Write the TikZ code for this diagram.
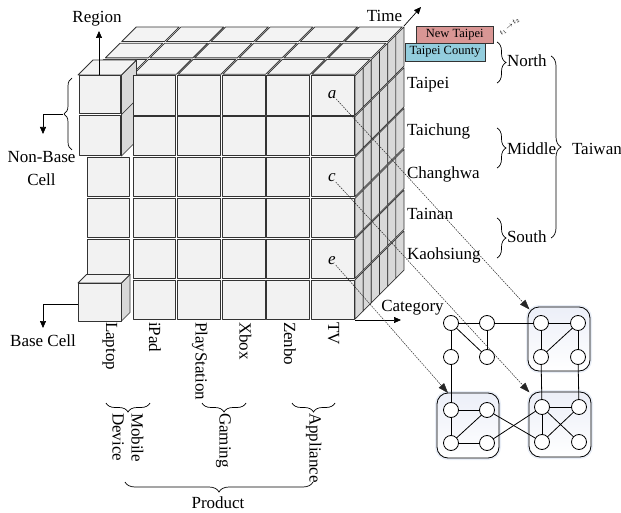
\documentclass[tikz,border=0pt]{standalone}
\usepackage{fontspec}
\setmainfont{Liberation Serif}
\usetikzlibrary{arrows.meta,decorations.pathreplacing,calc}

\definecolor{facefront}{HTML}{F2F2F2}
\definecolor{facetop}{HTML}{F3F3F3}
\definecolor{faceside}{HTML}{D9D9D9}
\definecolor{edgegray}{HTML}{333333}
\definecolor{salmon}{HTML}{D99694}
\definecolor{skyblue}{HTML}{93CDDD}
\definecolor{boxtop}{HTML}{ECEFF8}
\definecolor{boxglow}{HTML}{E8EDF6}

\begin{document}
\begin{tikzpicture}[x=1pt,y=-1pt,
  every node/.style={font=\fontsize{17}{19}\selectfont, inner sep=0pt, outer sep=0pt},
  cubeface/.style={fill=facefront, draw=edgegray, line width=0.8pt, line join=round},
  cubetop/.style={fill=facetop, draw=edgegray, line width=0.8pt, line join=round},
  cubeside/.style={fill=faceside, draw=edgegray, line width=0.7pt, line join=round},
  axisarrow/.style={draw=black, line width=0.7pt, -{Triangle[length=7pt,width=6pt]}},
  linkarrow/.style={draw=black!85, line width=0.5pt, dash pattern=on 1.6pt off 1pt,
                    -{Triangle[length=10pt,width=7pt]}},
  bracer/.style={decorate, decoration={brace, amplitude=#1}, line width=0.7pt},
  vlabel/.style={rotate=-90, anchor=west, text height=12pt, text depth=4pt},
  rowlabel/.style={anchor=base west},
  tagbox/.style={draw=edgegray, line width=0.8pt, font=\fontsize{12.5}{14}\selectfont},
  gnode/.style={circle, draw=black, fill=white, line width=0.8pt, minimum size=15pt},
  gedge/.style={draw=black, line width=0.8pt},
  cluster/.style={draw=black, line width=0.8pt, rounded corners=11pt,
                  top color=boxtop, bottom color=white,
                  preaction={draw=boxglow, line width=4pt}},
]
\useasboundingbox (0,0) rectangle (621,513);

% grid geometry of the data cube
\def\xL{87.4}  \def\cw{44.6}
\def\ry{75}    \def\rh{40.83}
\def\dt{16.3}  \def\ds{8.17}

% ---- top face: three depth layers, six columns
\foreach \k in {2,1,0}{
  \foreach \c in {0,...,5}{
    \pgfmathsetmacro\ox{\xL+\c*\cw+\k*\dt}
    \pgfmathsetmacro\oy{\ry-\k*\dt}
    \begin{scope}[shift={(\ox,\oy)}, x={(\cw pt,0pt)}, y={(\dt pt,\dt pt)}]
      \draw[cubetop] (0.02,0.05) -- (0.98,0.05) -- (0.98,0.95) -- (0.02,0.95) -- cycle;
    \end{scope}
  }
}

% ---- right side face: six rows, six thin slices
\foreach \r in {0,...,5}{
  \foreach \j in {0,...,5}{
    \pgfmathsetmacro\ox{355+\j*\ds}
    \pgfmathsetmacro\oy{\ry+\r*\rh-\j*\ds}
    \begin{scope}[shift={(\ox,\oy)}, x={(\ds pt,\ds pt)}, y={(0pt,-\rh pt)}]
      \draw[cubeside] (0,0.02) -- (1,0.02) -- (1,0.98) -- (0,0.98) -- cycle;
    \end{scope}
  }
}

% ---- laptop column, cells that stay in the cube
\foreach \r in {2,3,4}{
  \draw[cubeface] ({\xL-0.5},{\ry+\r*\rh+0.9}) rectangle ({\xL+\cw-2.4},{\ry+(\r+1)*\rh-0.9});
}

% ---- non-base cells pulled out of the cube
\draw[cubeside] (121.5,114.5) -- (136.5,99.5) -- (136.5,141) -- (121.5,156) -- cycle;
\draw[cubeface] (78.9,115.4) rectangle (120.6,155.1);
\draw[cubeside] (121.5,75) -- (136.5,60) -- (136.5,99.5) -- (121.5,114.5) -- cycle;
\draw[cubetop]  (78,75) -- (93,60) -- (136.5,60) -- (121.5,75) -- cycle;
\draw[cubeface] (78.9,75.9) rectangle (120.6,113.6);

% ---- base cell
\draw[cubeside] (121.5,283) -- (130,274.5) -- (130,312.5) -- (121.5,321) -- cycle;
\draw[cubetop]  (78,283) -- (86.5,274.5) -- (130,274.5) -- (121.5,283) -- cycle;
\draw[cubeface] (78,283) rectangle (121.5,321);

% ---- front face of the cube
\foreach \c in {1,...,5}{
  \foreach \r in {0,...,5}{
    \draw[cubeface] ({\xL+\c*\cw+0.9},{\ry+\r*\rh+0.9}) rectangle
                    ({\xL+(\c+1)*\cw-0.9},{\ry+(\r+1)*\rh-0.9});
  }
}

% ---- axes
\coordinate (regbase) at (99,75);
\coordinate (regtip)  at (99,31);
\draw[axisarrow] (regbase) -- (regtip);
\node[anchor=base] (region) at (97,23) {Region};

\coordinate (timebase) at (404,26);
\coordinate (timetip)  at (421,7);
\draw[axisarrow] (timebase) -- (timetip);
\node[anchor=base] (time) at (384.5,22) {Time};

\coordinate (catbase) at (355,320);
\coordinate (cattip)  at (401,320);
\draw[axisarrow] (catbase) -- (cattip);
\node[anchor=base] (category) at (412.5,311) {Category};

% ---- non-base / base cell callouts
\draw[bracer=8pt] (72,150) -- (72,78);
\coordinate (nbtip) at (63,114);
\coordinate (nbend) at (43,134);
\draw[axisarrow] (nbtip) -| (nbend);
\node[anchor=base] (nonbase) at (41.5,163) {Non-Base};
\node[anchor=base] (nbcell)  at (41.5,186) {Cell};

\coordinate (bcleft) at (78,304);
\coordinate (bcend)  at (43,328);
\draw[axisarrow] (bcleft) -| (bcend);
\node[anchor=base] (basecell) at (43,346) {Base Cell};

% ---- product labels
\node[vlabel] (laptop) at (110,322) {Laptop};
\node[vlabel] (ipad)   at (153,322) {iPad};
\node[vlabel] (ps)     at (199.5,322) {PlayStation};
\node[vlabel] (xbox)   at (243.5,322) {Xbox};
\node[vlabel] (zenbo)  at (288,322) {Zenbo};
\node[vlabel] (tv)     at (332,322) {TV};

\draw[bracer=9pt] (150,403) -- (106,403);
\draw[bracer=9pt] (246,403) -- (202,403);
\draw[bracer=9pt] (335,403) -- (292,403);
\node[rotate=-90, anchor=west, align=left] (mobile) at (128,413) {Mobile\\Device};
\node[vlabel] (gaming)    at (223.5,413) {Gaming};
\node[vlabel] (appliance) at (313.5,413) {Appliance};

\draw[bracer=10pt] (313,482) -- (125,482);
\node[anchor=base] (product) at (218,508) {Product};

% ---- region labels
\node[rowlabel] (taipei)    at (407,89)  {Taipei};
\node[rowlabel] (taichung)  at (407,136) {Taichung};
\node[rowlabel] (changhwa)  at (407,179) {Changhwa};
\node[rowlabel] (tainan)    at (407,219) {Tainan};
\node[rowlabel] (kaohsiung) at (407,259) {Kaohsiung};

\node[tagbox, fill=salmon, minimum width=77pt, minimum height=17pt] (newtaipei) at (454.7,34.5) {New Taipei};
\node[tagbox, fill=skyblue, minimum width=80pt, minimum height=18pt] (taipeicounty) at (445,52) {Taipei County};
\node[rotate=40, font=\fontsize{7.5}{8}\selectfont] (tstep) at (509.5,26.5) {$t_1\!\rightarrow\! t_2$};

\draw[bracer=9pt] (497,42) -- (497,83);
\draw[bracer=9pt] (497,128) -- (497,168);
\draw[bracer=9pt] (497,218) -- (497,258);
\draw[bracer=10pt] (551,56) -- (551,238);
\node[anchor=base west] (north)  at (507,67)  {North};
\node[anchor=base west] (middle) at (507,155) {Middle};
\node[anchor=base west] (south)  at (507,243) {South};
\node[anchor=base west] (taiwan) at (572,155) {Taiwan};

% ---- cell markers
\node (lbla) at (332,95)  {\itshape a};
\node (lblc) at (332,178) {\itshape c};
\node (lble) at (332,261) {\itshape e};

% ---- graph of cells
\node[cluster, minimum width=62pt, minimum height=64pt] (tr) at (559,339) {};
\node[cluster, minimum width=62pt, minimum height=65pt] (bl) at (468,425.5) {};
\node[cluster, minimum width=62pt, minimum height=65pt] (br) at (560,424.5) {};

\node[gnode] (f1) at (451,323) {};
\node[gnode] (f2) at (487,323) {};
\node[gnode] (f3) at (451,357) {};
\node[gnode] (f4) at (487,357) {};
\node[gnode] (t1) at (541,323) {};
\node[gnode] (t2) at (578,323) {};
\node[gnode] (t3) at (541,357) {};
\node[gnode] (t4) at (578,357) {};
\node[gnode] (b1) at (451,410) {};
\node[gnode] (b2) at (487,410) {};
\node[gnode] (b3) at (451,443) {};
\node[gnode] (b4) at (487,443) {};
\node[gnode] (r1) at (542,407) {};
\node[gnode] (r2) at (579,407) {};
\node[gnode] (r3) at (542,442) {};
\node[gnode] (r4) at (579,442) {};

\draw[gedge] (f1) -- (f2);
\draw[gedge] (f2) -- (t1);
\draw[gedge] (f1) -- (f3);
\draw[gedge] (f1) -- (f4);
\draw[gedge] (f2) -- (f4);
\draw[gedge] (f3) -- (b1);
\draw[gedge] (t1) -- (t2);
\draw[gedge] (t1) -- (t3);
\draw[gedge] (t2) -- (t4);
\draw[gedge] (t3) -- (t2);
\draw[gedge] (t3) -- (r1);
\draw[gedge] (t4) -- (r2);
\draw[gedge] (b1) -- (b2);
\draw[gedge] (b1) -- (b3);
\draw[gedge] (b3) -- (b4);
\draw[gedge] (b3) -- (b2);
\draw[gedge] (b2) -- (r3);
\draw[gedge] (b4) -- (r1);
\draw[gedge] (r1) -- (r2);
\draw[gedge] (r1) -- (r3);
\draw[gedge] (r1) -- (r4);
\draw[gedge] (r3) -- (r2);

% ---- links from cube cells to graph clusters
\coordinate (trin) at ($(tr.north west)+(1.5,2.5)$);
\coordinate (brin) at ($(br.north west)+(0.5,0.5)$);
\coordinate (blin) at ($(bl.north west)+(11,0)$);
\draw[linkarrow] (lbla.south east) -- (trin);
\draw[linkarrow] (lblc.south east) -- (brin);
\draw[linkarrow] (lble.south east) -- (blin);
\end{tikzpicture}
\end{document}
